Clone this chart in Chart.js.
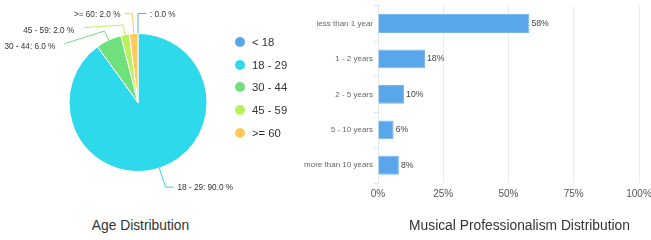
<!DOCTYPE html>
<html>
<head>
<meta charset="utf-8">
<script src="https://cdn.jsdelivr.net/npm/chart.js@4.4.1/dist/chart.umd.min.js"></script>
<style>
  body { margin: 0; background: #fff; font-family: "Liberation Sans", Arial, sans-serif; }
  #wrap { position: relative; width: 651px; height: 240px; overflow: hidden; }
  #pieBox { position: absolute; left: 0; top: 0; width: 276px; height: 205px; }
  #barBox { position: absolute; left: 290px; top: 0; width: 361px; height: 210px; }
  .title { position: absolute; top: 218px; font-size: 13.8px; line-height: 16px; color: #333;
           white-space: nowrap; transform: translateX(-50%); }
  #legend { position: absolute; left: 235px; top: 30.6px; margin: 0; padding: 0; list-style: none;
            font-size: 11.3px; color: #333; }
  #legend li { height: 22.75px; display: flex; align-items: center; white-space: nowrap; }
  #legend span { display: inline-block; width: 10px; height: 10px; border-radius: 50%; margin-right: 7px; }
</style>
</head>
<body>
<div id="wrap">
  <div id="pieBox"><canvas id="ageChart"></canvas></div>
  <ul id="legend"></ul>
  <div class="title" style="left:140.5px">Age Distribution</div>
  <div id="barBox"><canvas id="expChart"></canvas></div>
  <div class="title" style="left:519.5px">Musical Professionalism Distribution</div>
</div>
<script>
// age pie
const ageLabels = ["< 18", "18 - 29", "30 - 44", "45 - 59", ">= 60"];
const ageValues = [0, 90, 6, 2, 2];
const ageColors = ["#5aa6ea", "#2ed9ec", "#6fe07c", "#b7f25c", "#ffc95e"];

// experience bars
const expLabels = ["less than 1 year", "1 - 2 years", "2 - 5 years", "5 - 10 years", "more than 10 years"];
const expValues = [58, 18, 10, 6, 8];
const pctTicks = [0, 25, 50, 75, 100];

// legend
const legend = document.getElementById("legend");
ageLabels.forEach((l, i) => {
  const li = document.createElement("li");
  const dot = document.createElement("span");
  dot.style.background = ageColors[i];
  li.appendChild(dot);
  li.appendChild(document.createTextNode(l));
  legend.appendChild(li);
});

// the original page lost "< 18" as if it were an html tag
const sliceName = l => l.startsWith("<") ? "" : l;

const outLabels = {
  id: "outLabels",
  afterDatasetsDraw(chart) {
    const ctx = chart.ctx;
    const meta = chart.getDatasetMeta(0);
    const data = chart.data.datasets[0].data;
    const total = data.reduce((a, b) => a + b, 0);
    const items = meta.data.map((arc, i) => {
      const p = arc.getProps(["x", "y", "startAngle", "endAngle", "outerRadius"]);
      const mid = (p.startAngle + p.endAngle) / 2;
      const c = Math.cos(mid), s = Math.sin(mid), r = p.outerRadius;
      return {
        i, c, s, cx: p.x, cy: p.y, r,
        right: c >= -1e-6,
        p0: { x: p.x + c * r, y: p.y + s * r },
        p1: { x: p.x + c * (r + 20), y: p.y + s * (r + 20) }
      };
    });
    [true, false].forEach(side => {
      const list = items.filter(it => it.right === side).sort((a, b) => a.p1.y - b.p1.y);
      let prev = -Infinity;
      list.forEach(it => {
        it.ly = Math.max(it.p1.y, prev + 16);
        it.shifted = it.ly - it.p1.y > 1;
        prev = it.ly;
      });
    });
    ctx.save();
    ctx.font = '8.2px "Liberation Sans", Arial, sans-serif';
    ctx.textBaseline = "middle";
    ctx.lineWidth = 1;
    items.forEach(it => {
      const dir = it.right ? 1 : -1;
      const text = sliceName(ageLabels[it.i]) + ": " + (data[it.i] / total * 100).toFixed(1) + " %";
      ctx.strokeStyle = ageColors[it.i];
      ctx.beginPath();
      ctx.moveTo(it.p0.x, it.p0.y);
      let tx;
      if (!it.shifted) {
        ctx.lineTo(it.p1.x, it.p1.y);
        ctx.lineTo(it.p1.x + dir * 8, it.p1.y);
        tx = it.p1.x + dir * 12;
      } else {
        const bx = it.cx + it.c * (it.r + 10), by = it.cy + it.s * (it.r + 10);
        ctx.lineTo(bx, by);
        ctx.lineTo(bx + dir * 40, it.ly - 2);
        tx = bx + dir * 49;
      }
      ctx.stroke();
      ctx.fillStyle = "#333";
      ctx.textAlign = it.right ? "left" : "right";
      ctx.fillText(text, tx, it.ly + 1);
    });
    ctx.restore();
  }
};

new Chart(document.getElementById("ageChart"), {
  type: "pie",
  data: {
    labels: ageLabels,
    datasets: [{
      data: ageValues,
      backgroundColor: ageColors,
      borderColor: "#fff",
      borderWidth: 1
    }]
  },
  options: {
    responsive: true,
    maintainAspectRatio: false,
    animation: false,
    radius: 69,
    layout: { padding: 0 },
    plugins: { legend: { display: false }, tooltip: { enabled: false } }
  },
  plugins: [outLabels]
});

const barValues = {
  id: "barValues",
  afterDatasetsDraw(chart) {
    const ctx = chart.ctx;
    const meta = chart.getDatasetMeta(0);
    ctx.save();
    ctx.font = '8.7px "Liberation Sans", Arial, sans-serif';
    ctx.fillStyle = "#444";
    ctx.textBaseline = "middle";
    ctx.textAlign = "left";
    meta.data.forEach((bar, i) => {
      ctx.fillText(expValues[i] + "%", bar.x + 2, bar.y);
    });
    ctx.restore();
  }
};

new Chart(document.getElementById("expChart"), {
  type: "bar",
  data: {
    labels: expLabels,
    datasets: [{
      data: expValues,
      backgroundColor: "#5aa6ea",
      borderColor: "#78b6ee",
      borderWidth: 1,
      barPercentage: 0.9,
      categoryPercentage: 0.59
    }]
  },
  options: {
    indexAxis: "y",
    responsive: true,
    maintainAspectRatio: false,
    animation: false,
    layout: { padding: { top: 1.5, right: 12, bottom: 5, left: 0 } },
    plugins: { legend: { display: false }, tooltip: { enabled: false } },
    scales: {
      x: {
        min: 0,
        max: 100,
        afterBuildTicks: s => { s.ticks = pctTicks.map(v => ({ value: v })); },
        afterFit: s => { s.paddingRight = 0; s.paddingLeft = 0; },
        ticks: {
          padding: 5,
          color: "#555",
          font: { family: '"Liberation Sans", Arial, sans-serif', size: 10 },
          maxRotation: 0,
          callback: v => v + "%"
        },
        grid: { color: "#ebebeb", drawTicks: false },
        border: { display: false }
      },
      y: {
        afterFit: s => { s.width = 88; },
        ticks: {
          padding: 1,
          color: "#666",
          font: { family: '"Liberation Sans", Arial, sans-serif', size: 8 }
        },
        grid: { drawOnChartArea: false, drawTicks: true, tickLength: 4, color: "#dde5ee" },
        border: { color: "#dde5ee" }
      }
    }
  },
  plugins: [barValues]
});
</script>
</body>
</html>
